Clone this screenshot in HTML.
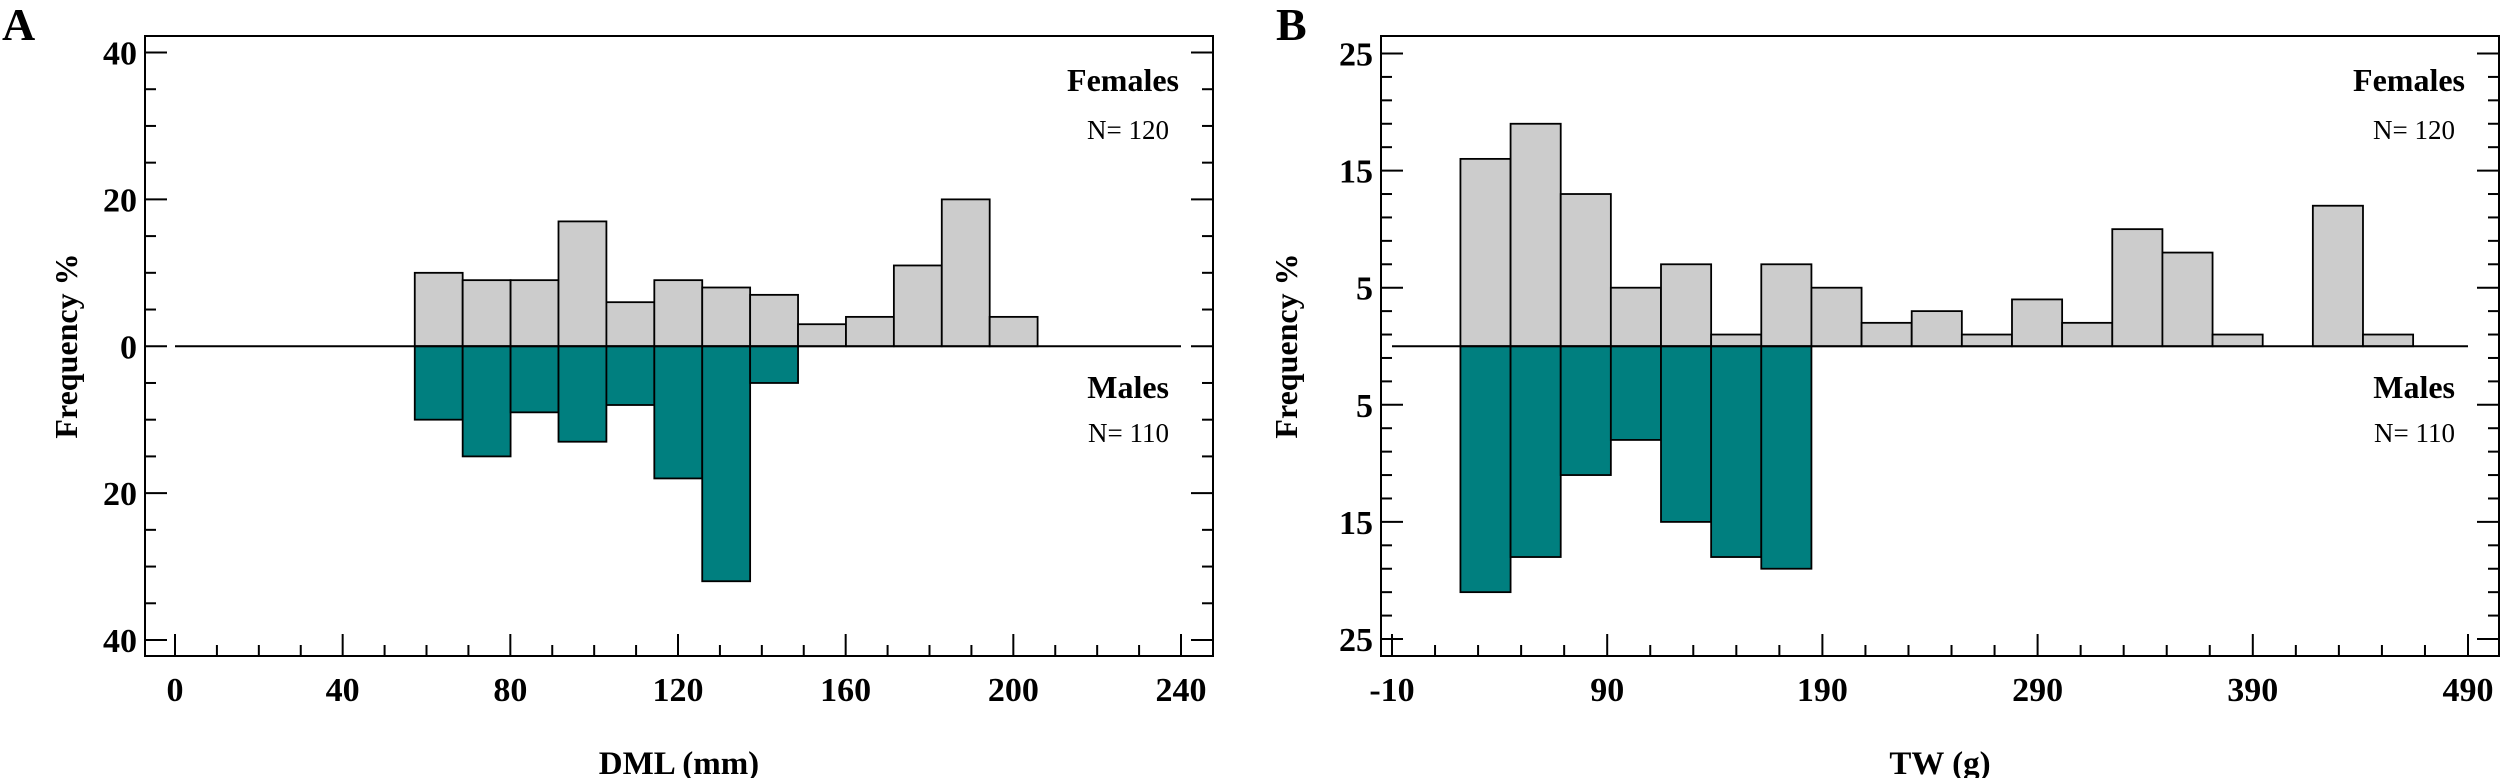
<!DOCTYPE html>
<html><head><meta charset="utf-8"><style>
html,body{margin:0;padding:0;background:#fff;width:2500px;height:778px;overflow:hidden}
svg{display:block}
text{font-family:"Liberation Serif",serif;fill:#000}
</style></head><body>
<svg id="chart" width="2500" height="778" viewBox="0 0 2500 778" xmlns="http://www.w3.org/2000/svg"></svg>
<script>
// Panel A data (DML, mm)
const aBinStart = 57.2;
const aBinWidth = 11.43;
const aFemales = [10, 9, 9, 17, 6, 9, 8, 7, 3, 4, 11, 20, 4];
const aMales = [10, 15, 9, 13, 8, 18, 32, 5];
const aXTicks = [0, 40, 80, 120, 160, 200, 240];
const aYTicks = [40, 20, 0, -20, -40];
const aYTickLabels = ["40", "20", "0", "20", "40"];
// Panel B data (TW, g)
const bBinStart = 21.8;
const bBinWidth = 23.3;
const bFemales = [16, 19, 13, 5, 7, 1, 7, 5, 2, 3, 1, 4, 2, 10, 8, 1, 0, 12, 1];
const bMales = [21, 18, 11, 8, 15, 18, 19];
const bXTicks = [-10, 90, 190, 290, 390, 490];
const bYTicks = [25, 15, 5, -5, -15, -25];
const bYTickLabels = ["25", "15", "5", "5", "15", "25"];

const NS = "http://www.w3.org/2000/svg";
const svg = document.getElementById("chart");
function mk(tag, attrs, parent) {
  const e = document.createElementNS(NS, tag);
  for (const k in attrs) e.setAttribute(k, attrs[k]);
  (parent || svg).appendChild(e);
  return e;
}

function panel(cfg) {
  const g = mk("g", {});
  
  
  const x = v => cfg.x0px + (v - cfg.xmin) / (cfg.xmax - cfg.xmin) * (cfg.x1px - cfg.x0px);
  const y = v => cfg.y0px + (cfg.ymax - v) / (cfg.ymax - cfg.ymin) * (cfg.y1px - cfg.y0px);
  const fr = mk("rect", {x: cfg.fl, y: 36, width: cfg.fr - cfg.fl, height: 620, fill: "none", stroke: "#000", "stroke-width": 2}, g);
  
  
  cfg.fem.forEach((v, i) => {
    if (v <= 0) return;
    const r = mk("rect", {x: x(cfg.bs + i * cfg.bw), y: y(v), width: x(cfg.bs + (i + 1) * cfg.bw) - x(cfg.bs + i * cfg.bw), height: y(0) - y(v), fill: "#cccccc", stroke: "#000", "stroke-width": 1.8}, g);
    
    
  });
  cfg.mal.forEach((v, i) => {
    const r = mk("rect", {x: x(cfg.bs + i * cfg.bw), y: y(0), width: x(cfg.bs + (i + 1) * cfg.bw) - x(cfg.bs + i * cfg.bw), height: y(-v) - y(0), fill: "#007f7f", stroke: "#000", "stroke-width": 1.8}, g);
    
    
  });
  const bl = mk("line", {x1: x(cfg.xmin), x2: x(cfg.xmax), y1: y(0), y2: y(0), stroke: "#000", "stroke-width": 2}, g);
  
  
  for (let v = cfg.ymin; v <= cfg.ymax + 1e-6; v += cfg.yminor) {
    const major = cfg.yt.some(t => Math.abs(t - v) < 1e-6);
    const L = major ? 22 : 11;
    mk("line", {x1: cfg.fl, x2: cfg.fl + L, y1: y(v), y2: y(v), stroke: "#000", "stroke-width": 2}, g);
    mk("line", {x1: cfg.fr - L, x2: cfg.fr, y1: y(v), y2: y(v), stroke: "#000", "stroke-width": 2}, g);
  }
  cfg.yt.forEach((v, i) => {
    const t = mk("text", {x: cfg.fl - 8, y: y(v) + 12, "text-anchor": "end", "font-size": 34, "font-weight": "bold"}, g);
    t.textContent = cfg.ytl[i];
    
    
  });
  for (let v = cfg.xmin; v <= cfg.xmax + 1e-6; v += cfg.xminor) {
    const major = cfg.xt.some(t => Math.abs(t - v) < 1e-6);
    mk("line", {x1: x(v), x2: x(v), y1: 656, y2: 656 - (major ? 22 : 11), stroke: "#000", "stroke-width": 2}, g);
  }
  cfg.xt.forEach(v => {
    const t = mk("text", {x: x(v), y: 701, "text-anchor": "middle", "font-size": 34, "font-weight": "bold"}, g);
    t.textContent = String(v);
    
    
  });
  const lab = (txt, xx, yy, sz, bold, anchor, name, rot) => {
    const t = mk("text", {x: xx, y: yy, "text-anchor": anchor, "font-size": sz, "font-weight": bold ? "bold" : "normal"}, g);
    if (rot) t.setAttribute("transform", "rotate(-90 " + xx + " " + yy + ")");
    t.textContent = txt;
    
    
  };
  lab(cfg.letter, cfg.letterX, 40, 46, true, "start", "panel-letter");
  lab("Females", cfg.fr - 34, 91, 32, true, "end", "females-label");
  lab("N= 120", cfg.fr - 44, 139, 27, false, "end", "females-n");
  lab("Males", cfg.fr - 44, 398, 32, true, "end", "males-label");
  lab("N= 110", cfg.fr - 44, 442, 27, false, "end", "males-n");
  lab(cfg.xlabel, (cfg.fl + cfg.fr) / 2, 774, 33, true, "middle", "x-axis-title");
  lab("Frequency %", cfg.ylx, 346, 32, true, "middle", "y-axis-title", true);
}

panel({name: "panel-a-dml", fl: 145, fr: 1213, x0px: 175, x1px: 1181, xmin: 0, xmax: 240,
  y0px: 52.5, y1px: 640, ymin: -40, ymax: 40, yminor: 5, xminor: 10,
  bs: aBinStart, bw: aBinWidth, fem: aFemales, mal: aMales, xt: aXTicks, yt: aYTicks, ytl: aYTickLabels,
  letter: "A", letterX: 2, xlabel: "DML (mm)", ylx: 77});
panel({name: "panel-b-tw", fl: 1381, fr: 2499, x0px: 1392, x1px: 2468, xmin: -10, xmax: 490,
  y0px: 53.5, y1px: 639, ymin: -25, ymax: 25, yminor: 2, xminor: 20,
  bs: bBinStart, bw: bBinWidth, fem: bFemales, mal: bMales, xt: bXTicks, yt: bYTicks, ytl: bYTickLabels,
  letter: "B", letterX: 1276, xlabel: "TW (g)", ylx: 1297});
</script>
</body></html>
